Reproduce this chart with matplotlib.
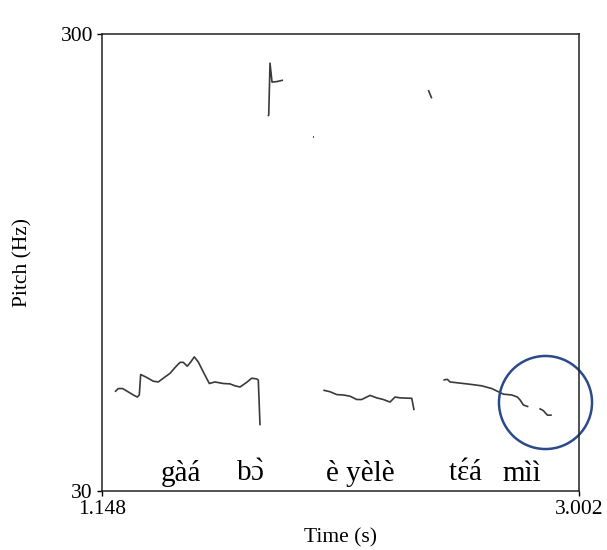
import matplotlib
matplotlib.use('Agg')
import matplotlib.pyplot as plt

plt.rcParams['font.family'] = ['Liberation Serif', 'DejaVu Serif']
plt.rcParams['mathtext.fontset'] = 'custom'
plt.rcParams['mathtext.rm'] = 'Liberation Serif'
plt.rcParams['mathtext.it'] = 'Liberation Serif'

# pitch track, split where the tracker lost voicing
seg1_t = [1.1985, 1.2114, 1.2285, 1.2440, 1.2697, 1.2852, 1.2930, 1.2984, 1.3217, 1.3474,
          1.3668, 1.3863, 1.4123, 1.4317, 1.4512, 1.4640, 1.4795, 1.4928, 1.5068, 1.5223,
          1.5417, 1.5651, 1.5872, 1.6195, 1.6455, 1.6649, 1.6844, 1.7104, 1.7298, 1.7493,
          1.7555, 1.7621]
seg1_f = [49.5, 50.3, 50.3, 49.7, 48.7, 48.2, 48.7, 54.0, 53.2, 52.2,
          52.0, 53.0, 54.3, 55.9, 57.4, 57.4, 56.3, 57.5, 59.0, 57.5,
          54.7, 51.6, 52.0, 51.6, 51.5, 51.0, 50.7, 51.9, 53.0, 52.8,
          52.5, 41.8]

seg2_t = [1.7932, 1.7960, 1.8010, 1.8088, 1.8282, 1.8515]
seg2_f = [198.5, 199.5, 259.2, 235.6, 236.2, 237.9]

seg3_t = [1.9680, 1.9710]
seg3_f = [178.3, 178.3]

seg4_t = [2.4163, 2.4295]
seg4_f = [226.3, 217.0]

seg5_t = [2.0082, 2.0342, 2.0602, 2.0859, 2.1119, 2.1380, 2.1574, 2.1897, 2.2157, 2.2414,
          2.2674, 2.2868, 2.3063, 2.3451, 2.3518, 2.3607]
seg5_f = [49.9, 49.5, 48.8, 48.7, 48.4, 47.6, 47.6, 48.6, 48.0, 47.6,
          47.0, 48.2, 48.0, 47.9, 47.9, 45.1]

seg6_t = [2.4746, 2.4901, 2.5006, 2.5266, 2.5783, 2.6238, 2.6627, 2.6884, 2.7078, 2.7404,
          2.7622, 2.7727, 2.7855, 2.8050]
seg6_f = [52.5, 52.7, 52.0, 51.8, 51.4, 51.0, 50.3, 49.5, 48.9, 48.7,
          48.2, 47.5, 46.3, 45.9]

seg7_t = [2.8477, 2.8632, 2.8788, 2.8959]
seg7_f = [45.5, 45.0, 44.0, 44.0]

# word glosses (accents on ɔ and ɛ via mathtext so they sit over the letter)
words = ['gàá', 'b$\\grave{\\mathrm{ɔ}}$', 'è yèlè', 't$\\acute{\\mathrm{ɛ}}$á', 'mìì']
word_t = [1.455, 1.723, 2.151, 2.559, 2.781]
word_f = 31.6

circle_t = 2.870
circle_f = 47.0

t_min, t_max = 1.148, 3.002
f_min, f_max = 30, 300

fig = plt.figure(figsize=(6.07, 5.50), dpi=100)
ax = fig.add_axes([0.168, 0.107, 0.786, 0.831])

segs = [(seg1_t, seg1_f), (seg2_t, seg2_f), (seg3_t, seg3_f), (seg4_t, seg4_f),
        (seg5_t, seg5_f), (seg6_t, seg6_f), (seg7_t, seg7_f)]
for st, sf in segs:
    ax.plot(st, sf, color='#3a3a3a', lw=1.2, solid_capstyle='butt')

for w, wt in zip(words, word_t):
    ax.text(wt, word_f, w, ha='center', va='baseline', fontsize=21, color='black')

# highlight circle
ax.plot(circle_t, circle_f, 'o', ms=67, mfc='none', mec='#2b4a8a', mew=1.8, clip_on=False)

ax.set_yscale('log')
ax.set_xlim(t_min, t_max)
ax.set_ylim(f_min, f_max)
ax.set_xticks([t_min, t_max])
ax.set_xticklabels(['1.148', '3.002'])
ax.set_yticks([f_min, f_max])
ax.set_yticklabels(['30', '300'])
ax.minorticks_off()
ax.tick_params(direction='out', length=3.5, width=1, labelsize=15.5, pad=3)

for sp in ax.spines.values():
    sp.set_linewidth(1.1)
    sp.set_color('#222222')

ax.set_xlabel('Time (s)', fontsize=15.5)
ax.set_ylabel('Pitch (Hz)', fontsize=15.5)
ax.xaxis.set_label_coords(0.5, -0.082)
ax.yaxis.set_label_coords(-0.145, 0.5)

fig.savefig('out.png', dpi=100)
